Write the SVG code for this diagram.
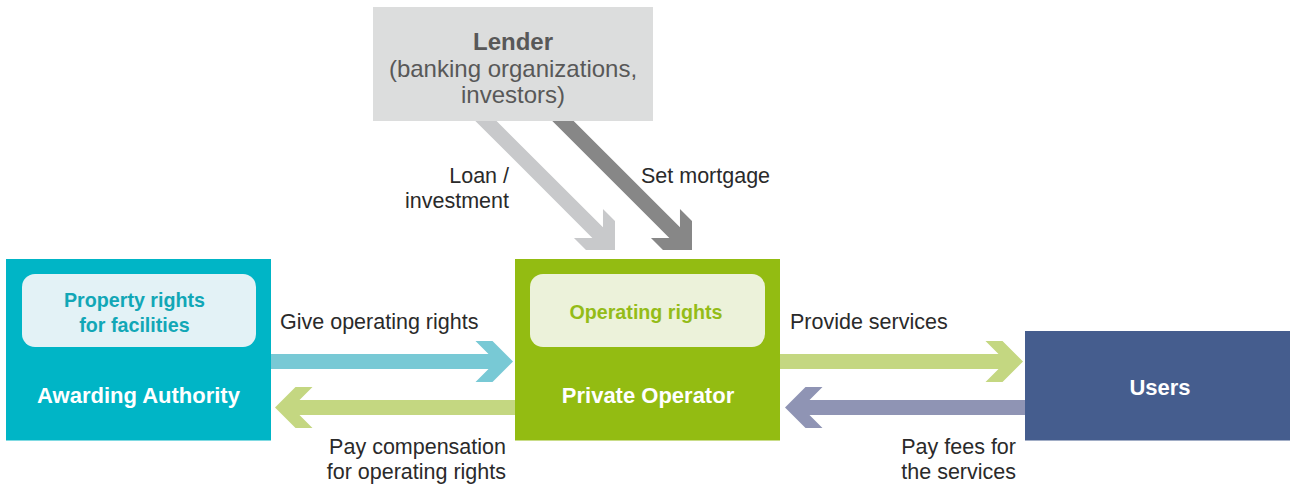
<svg xmlns="http://www.w3.org/2000/svg" width="1290" height="485" viewBox="0 0 1290 485">
  <style>
    .lbl { font-family: "Liberation Sans", Arial, sans-serif; font-size: 21.5px; fill: #2a2a2a; }
    .lender { font-family: "Liberation Sans", Arial, sans-serif; font-size: 24px; fill: #585858; text-anchor: middle; }
    .title { font-family: "Liberation Sans", Arial, sans-serif; font-size: 22px; font-weight: bold; fill: #ffffff; text-anchor: middle; }
    .inner { font-family: "Liberation Sans", Arial, sans-serif; font-size: 19.7px; font-weight: bold; text-anchor: middle; }
  </style>
  <rect width="1290" height="485" fill="#ffffff"/>
  <g id="connectors">
    <polygon id="loan" fill="#c8c9cb" transform="translate(615,250) rotate(45)" points="-195,-7.5 -24.5,-7.5 -37.5,-20.5 -20.5,-20.5 0,0 -20.5,20.5 -37.5,20.5 -24.5,7.5 -195,7.5"/>
    <polygon id="mortgage" fill="#878787" transform="translate(692,250) rotate(45)" points="-195,-7.5 -24.5,-7.5 -37.5,-20.5 -20.5,-20.5 0,0 -20.5,20.5 -37.5,20.5 -24.5,7.5 -195,7.5"/>
    <polygon id="give" fill="#78c9d5" transform="translate(513,361.5)" points="-242,-7.5 -24.5,-7.5 -37.5,-20.5 -20.5,-20.5 0,0 -20.5,20.5 -37.5,20.5 -24.5,7.5 -242,7.5"/>
    <polygon id="paycomp" fill="#c4d781" transform="translate(275,407.5) rotate(180)" points="-240,-7.5 -24.5,-7.5 -37.5,-20.5 -20.5,-20.5 0,0 -20.5,20.5 -37.5,20.5 -24.5,7.5 -240,7.5"/>
    <polygon id="provide" fill="#c4d781" transform="translate(1023,361.5)" points="-243,-7.5 -24.5,-7.5 -37.5,-20.5 -20.5,-20.5 0,0 -20.5,20.5 -37.5,20.5 -24.5,7.5 -243,7.5"/>
    <polygon id="payfees" fill="#8f94b4" transform="translate(785,407.5) rotate(180)" points="-240,-7.5 -24.5,-7.5 -37.5,-20.5 -20.5,-20.5 0,0 -20.5,20.5 -37.5,20.5 -24.5,7.5 -240,7.5"/>
    <text class="lbl" x="509" y="183" text-anchor="end">Loan /</text>
    <text class="lbl" x="509" y="208" text-anchor="end">investment</text>
    <text class="lbl" x="641" y="183">Set mortgage</text>
    <text class="lbl" x="280" y="329">Give operating rights</text>
    <text class="lbl" x="790" y="329">Provide services</text>
    <text class="lbl" x="506" y="454" text-anchor="end">Pay compensation</text>
    <text class="lbl" x="506" y="479" text-anchor="end">for operating rights</text>
    <text class="lbl" x="1016" y="454" text-anchor="end">Pay fees for</text>
    <text class="lbl" x="1016" y="479" text-anchor="end">the services</text>
  </g>
  <g id="lender">
    <rect x="373" y="7" width="280" height="114" fill="#dcdddd"/>
    <text class="lender" x="513" y="50" font-weight="bold" font-size="22.5px">Lender</text>
    <text class="lender" x="513" y="77">(banking organizations,</text>
    <text class="lender" x="513" y="103">investors)</text>
  </g>
  <g id="awarding-authority">
    <rect x="6" y="259" width="265" height="181.5" fill="#00b5c6"/>
    <rect x="22" y="274" width="234" height="73" rx="13" fill="#e3f2f6"/>
    <text class="inner" x="134.5" y="307" fill="#12a7b6">Property rights</text>
    <text class="inner" x="134.5" y="331.5" fill="#12a7b6">for facilities</text>
    <text class="title" x="138.5" y="402.5">Awarding Authority</text>
  </g>
  <g id="private-operator">
    <rect x="515" y="259" width="265" height="181.5" fill="#93bc12"/>
    <rect x="530" y="274" width="235" height="73" rx="13" fill="#ecf2da"/>
    <text class="inner" x="646" y="318.5" fill="#94bc18">Operating rights</text>
    <text class="title" x="648" y="402.5">Private Operator</text>
  </g>
  <g id="users">
    <rect x="1025" y="331" width="265" height="109.5" fill="#455d8e"/>
    <text class="title" x="1160" y="395">Users</text>
  </g>
</svg>
